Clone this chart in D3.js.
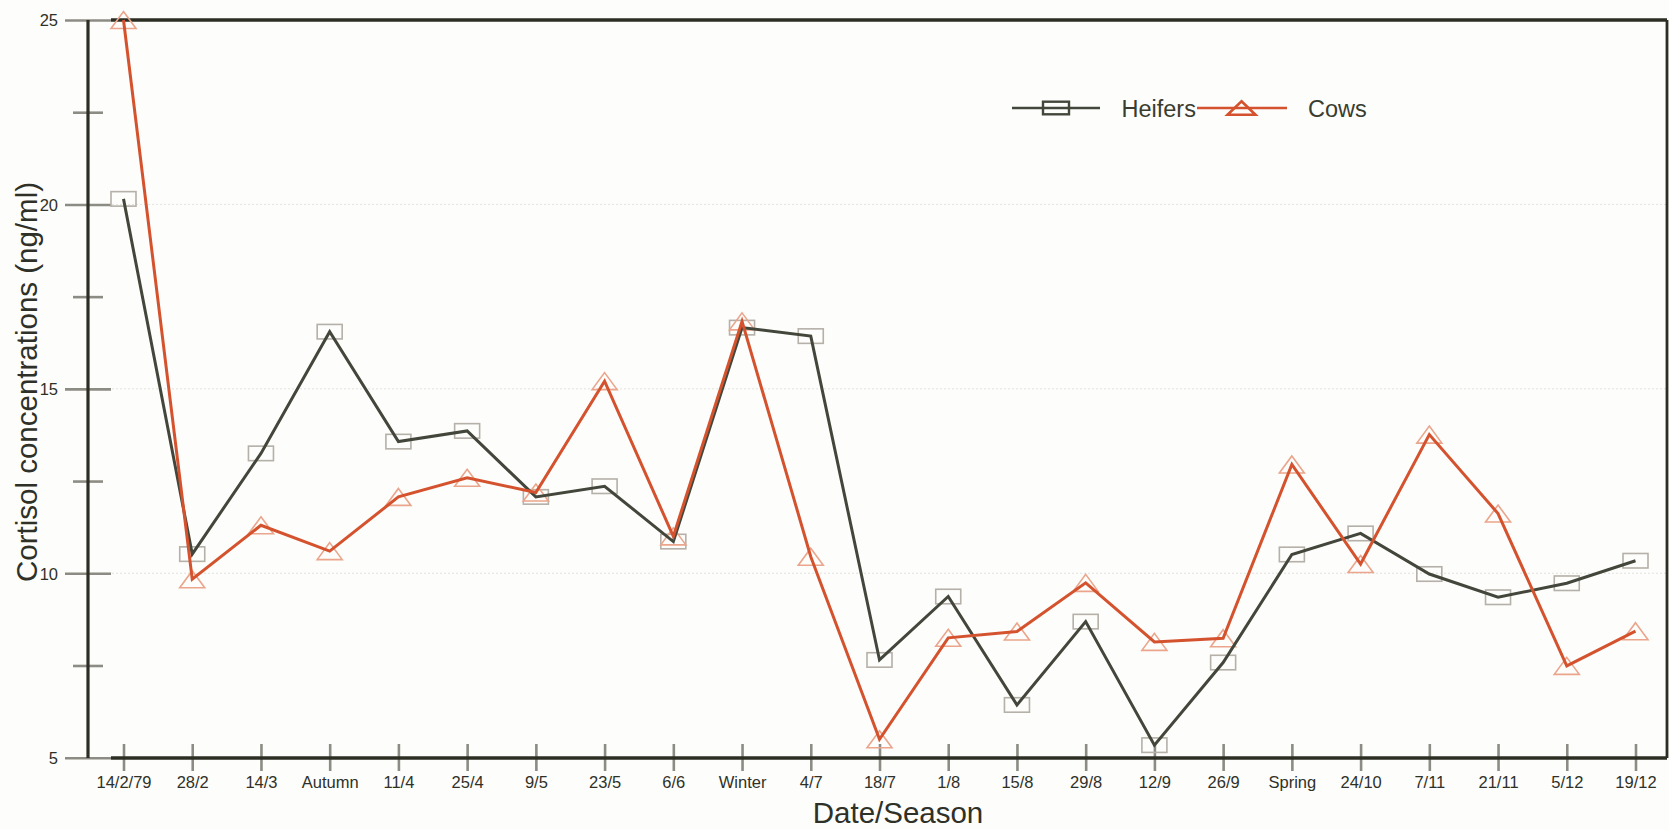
<!DOCTYPE html>
<html>
<head>
<meta charset="utf-8">
<script src="https://cdn.jsdelivr.net/npm/d3@7/dist/d3.min.js"></script>
<style>
  html, body { margin: 0; padding: 0; background: #fdfdfb; }
  svg { display: block; font-family: "Liberation Sans", Arial, sans-serif; }
</style>
</head>
<body>
<svg id="chart" width="1669" height="830"></svg>
<script>
// Sampling dates / seasons along the x axis
const categories = ["14/2/79", "28/2", "14/3", "Autumn", "11/4", "25/4", "9/5", "23/5", "6/6", "Winter",
  "4/7", "18/7", "1/8", "15/8", "29/8", "12/9", "26/9", "Spring", "24/10", "7/11", "21/11", "5/12", "19/12"];

// Cortisol concentrations (ng/ml)
const heifers = [20.15, 10.52, 13.25, 16.55, 13.57, 13.86, 12.07, 12.36, 10.86, 16.66,
  16.43, 7.65, 9.37, 6.43, 8.69, 5.34, 7.58, 10.51, 11.08, 9.98, 9.35, 9.73, 10.34];
const cows = [25.0, 9.84, 11.3, 10.6, 12.07, 12.59, 12.19, 15.21, 11.0, 16.83,
  10.45, 5.5, 8.25, 8.42, 9.74, 8.14, 8.24, 12.95, 10.25, 13.76, 11.62, 7.49, 8.43];

const majorTicks = [5, 10, 15, 20, 25];
const minorTicks = [7.5, 12.5, 17.5, 22.5];
const gridValues = [10, 15, 20];

const seriesNames = ["Heifers", "Cows"];

const svg = d3.select("#chart");

const plot = { left: 88, right: 1667, top: 20, bottom: 758 };

const x = d3.scalePoint().domain(categories).range([123.5, 1635.5]);
const y = d3.scaleLinear().domain([5, 25]).range([757.7, 20]);

const axisColor = "#2c2e24";
const tickColor = "#8c8c84";
const heiferColor = "#43463a";
const cowColor = "#d4532e";
const heiferMarker = "#b5b0a8";
const cowMarker = "#eaa58c";

// faint horizontal gridlines
svg.append("g").selectAll("line").data(gridValues).join("line")
  .attr("x1", plot.left).attr("x2", plot.right)
  .attr("y1", d => y(d)).attr("y2", d => y(d))
  .attr("stroke", "#e2e2de").attr("stroke-width", 1).attr("stroke-dasharray", "2,2");

// y axis: gray ticks crossing the axis line
const yAxisMajor = d3.axisLeft(y).tickValues(majorTicks).tickSize(0).tickPadding(0).tickFormat(d3.format("d"));
const gy = svg.append("g").attr("transform", `translate(${plot.left},0)`).call(yAxisMajor);
gy.select(".domain").remove();
gy.selectAll(".tick text").remove();
gy.selectAll(".tick").append("line")
  .attr("x1", -23).attr("x2", 23)
  .attr("stroke", tickColor).attr("stroke-width", 2.6);
gy.selectAll(".tick").append("text")
  .attr("x", -30).attr("dy", "0.36em")
  .attr("text-anchor", "end")
  .attr("fill", "#2f3128")
  .style("font-size", "16.5px")
  .text(d => d);

const gyMinor = svg.append("g").attr("transform", `translate(${plot.left},0)`)
  .call(d3.axisLeft(y).tickValues(minorTicks).tickSize(0).tickFormat(""));
gyMinor.select(".domain").remove();
gyMinor.selectAll(".tick").append("line")
  .attr("x1", -15).attr("x2", 15)
  .attr("stroke", tickColor).attr("stroke-width", 2.6);

// x axis ticks and labels
const gx = svg.append("g").attr("transform", `translate(0,${plot.bottom})`)
  .call(d3.axisBottom(x).tickSize(0).tickPadding(0));
gx.select(".domain").remove();
gx.selectAll(".tick text").remove();

// frame lines
svg.append("line").attr("x1", plot.left).attr("x2", plot.left).attr("y1", plot.top).attr("y2", plot.bottom)
  .attr("stroke", axisColor).attr("stroke-width", 3.2);
svg.append("line").attr("x1", 111).attr("x2", plot.right).attr("y1", plot.bottom).attr("y2", plot.bottom)
  .attr("stroke", axisColor).attr("stroke-width", 3.6);
svg.append("line").attr("x1", 111).attr("x2", plot.right).attr("y1", plot.top).attr("y2", plot.top)
  .attr("stroke", axisColor).attr("stroke-width", 3.4);
svg.append("line").attr("x1", plot.right).attr("x2", plot.right).attr("y1", plot.top).attr("y2", plot.bottom)
  .attr("stroke", axisColor).attr("stroke-width", 2.8);

gx.selectAll(".tick").append("line")
  .attr("y1", -14).attr("y2", 13)
  .attr("stroke", tickColor).attr("stroke-width", 2.6);
gx.selectAll(".tick").append("text")
  .attr("y", 29.5)
  .attr("text-anchor", "middle")
  .attr("fill", "#2f3128")
  .style("font-size", "16.5px")
  .text(d => d);

// axis titles
svg.append("text")
  .attr("x", 898).attr("y", 822.5)
  .attr("text-anchor", "middle")
  .attr("fill", "#2f3128")
  .style("font-size", "29.5px")
  .text("Date/Season");

svg.append("text")
  .attr("transform", "translate(37,382) rotate(-90)")
  .attr("text-anchor", "middle")
  .attr("fill", "#2f3128")
  .style("font-size", "29.5px")
  .text("Cortisol concentrations (ng/ml)");

// markers
const sqW = 25, sqH = 14.5;
const triW = 25, triH = 17;
const triPath = (cx, cy, w, h) => `M${cx},${cy - h / 2}L${cx + w / 2},${cy + h / 2}L${cx - w / 2},${cy + h / 2}Z`;

svg.append("g").selectAll("rect").data(heifers).join("rect")
  .attr("x", (d, i) => x(categories[i]) - sqW / 2)
  .attr("y", d => y(d) - sqH / 2)
  .attr("width", sqW).attr("height", sqH)
  .attr("fill", "none").attr("stroke", heiferMarker).attr("stroke-width", 1.6);

svg.append("g").selectAll("path").data(cows).join("path")
  .attr("d", (d, i) => triPath(x(categories[i]), y(d), triW, triH))
  .attr("fill", "none").attr("stroke", cowMarker).attr("stroke-width", 1.6);

// series lines
const line = d3.line().x((d, i) => x(categories[i])).y(d => y(d));

svg.append("path").datum(heifers)
  .attr("d", line)
  .attr("fill", "none").attr("stroke", heiferColor).attr("stroke-width", 3)
  .attr("stroke-linejoin", "miter");

svg.append("path").datum(cows)
  .attr("d", line)
  .attr("fill", "none").attr("stroke", cowColor).attr("stroke-width", 3)
  .attr("stroke-linejoin", "miter");

// legend
const legend = svg.append("g");
const legendY = 108;
const legendItems = [
  { name: seriesNames[0], x1: 1012, x2: 1100, color: heiferColor, text: 1121.5, marker: "square" },
  { name: seriesNames[1], x1: 1197, x2: 1287, color: cowColor, text: 1308, marker: "triangle" }
];
legendItems.forEach(it => {
  legend.append("line").attr("x1", it.x1).attr("x2", it.x2).attr("y1", legendY).attr("y2", legendY)
    .attr("stroke", it.color).attr("stroke-width", 2.4);
  const cx = (it.x1 + it.x2) / 2;
  if (it.marker === "square") {
    legend.append("rect").attr("x", cx - 13).attr("y", legendY - 6.3).attr("width", 26).attr("height", 12.6)
      .attr("fill", "none").attr("stroke", it.color).attr("stroke-width", 2.4);
  } else {
    legend.append("path").attr("d", triPath(cx - 0.5, legendY, 28, 13.6))
      .attr("fill", "none").attr("stroke", it.color).attr("stroke-width", 2.6);
  }
  legend.append("text").attr("x", it.text).attr("y", 116.7)
    .attr("fill", "#3a3c30")
    .style("font-size", "23.5px")
    .text(it.name);
});
</script>
</body>
</html>
